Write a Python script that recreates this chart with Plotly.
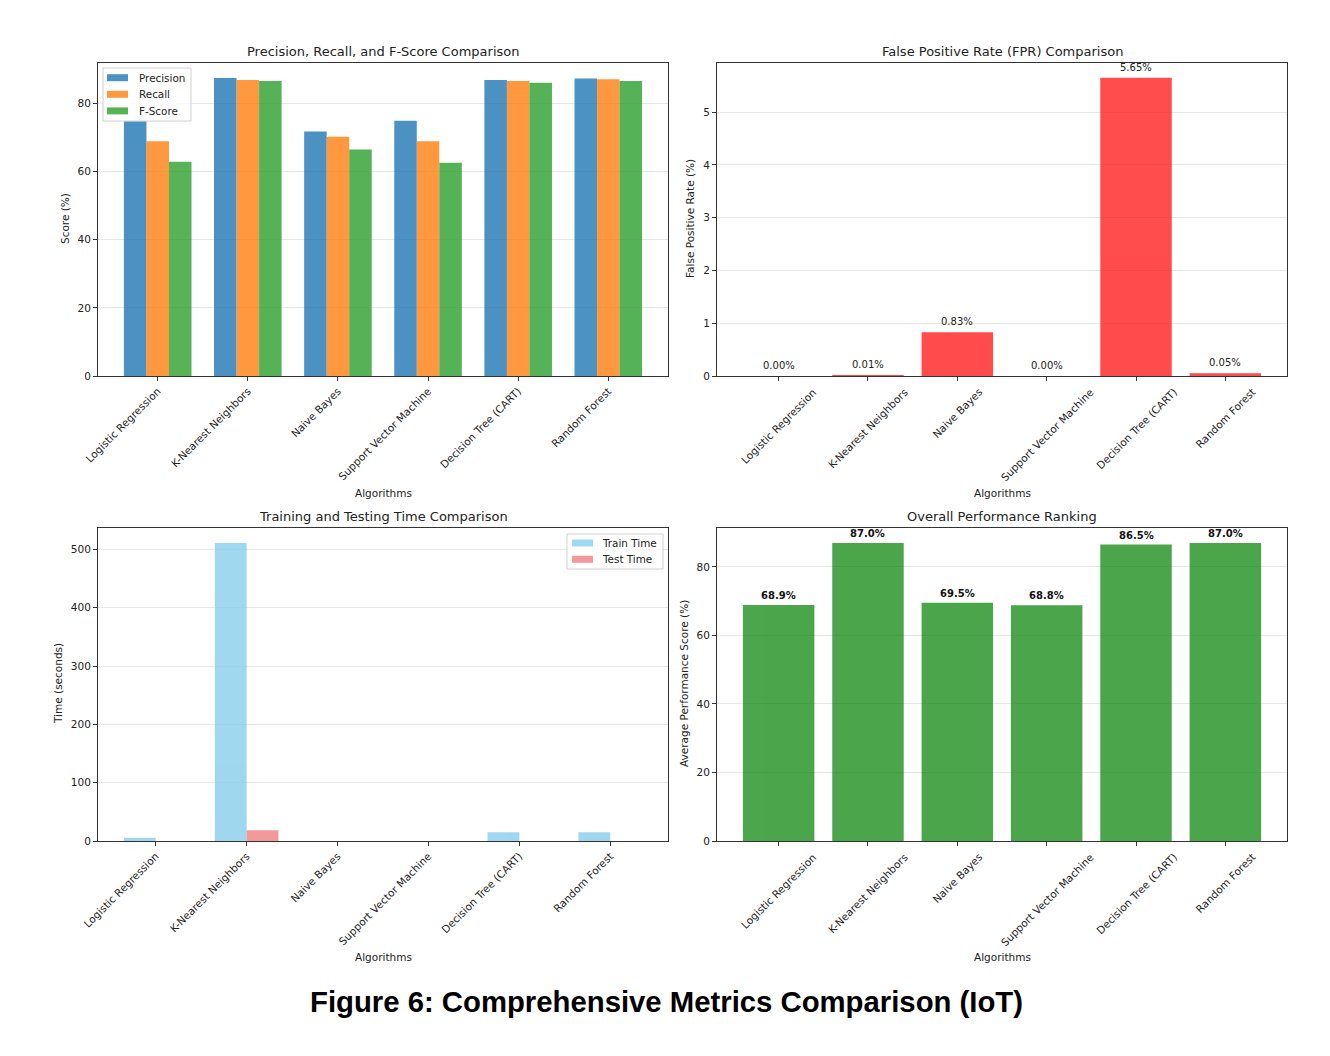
import plotly.graph_objects as go

# algorithms and metrics (IoT dataset)
algorithms = ["Logistic Regression", "K-Nearest Neighbors", "Naive Bayes",
              "Support Vector Machine", "Decision Tree (CART)", "Random Forest"]

precision = [74.8, 87.5, 71.8, 74.9, 86.9, 87.3]
recall = [68.9, 86.9, 70.2, 68.9, 86.6, 87.1]
f_score = [62.9, 86.6, 66.5, 62.6, 86.1, 86.6]

fpr = [0.00, 0.01, 0.83, 0.00, 5.65, 0.05]

train_time = [5.5, 511.0, 0.0, 0.0, 14.9, 15.0]
test_time = [0.0, 18.5, 0.0, 0.0, 0.0, 0.0]

avg_score = [68.9, 87.0, 69.5, 68.8, 86.5, 87.0]

W, H = 1330, 1056
OFF = 8  # page body margin in the browser
FONT = "DejaVu Sans"
TXT = "#222222"
GRID = "rgba(176,176,176,0.3)"


def px_x(p):
    return (p - OFF) / W


def px_y(p):
    return 1 - (p - OFF) / H


fig = go.Figure()

metric_series = [("Precision", precision, "#1f77b4"),
                 ("Recall", recall, "#ff7f0e"),
                 ("F-Score", f_score, "#2ca02c")]
time_series = [("Train Time", train_time, "#87ceeb"),
               ("Test Time", test_time, "#f08080")]

# panel 1 - precision / recall / f-score
for k, (name, vals, col) in enumerate(metric_series):
    fig.add_trace(go.Bar(x=algorithms, y=vals, name=name, width=0.25,
                         offset=-0.375 + k * 0.25, marker_color=col, opacity=0.8,
                         marker_line_width=0, xaxis="x", yaxis="y"))

# panel 2 - false positive rate
fig.add_trace(go.Bar(x=algorithms, y=fpr, width=0.8, offset=-0.4, marker_color="red",
                     opacity=0.7, marker_line_width=0, xaxis="x2", yaxis="y2"))

# panel 3 - train / test time
for k, (name, vals, col) in enumerate(time_series):
    fig.add_trace(go.Bar(x=algorithms, y=vals, name=name, width=0.35, offset=-0.35 + k * 0.35,
                         marker_color=col, opacity=0.8, marker_line_width=0,
                         xaxis="x3", yaxis="y3"))

# panel 4 - overall ranking
fig.add_trace(go.Bar(x=algorithms, y=avg_score, width=0.8, offset=-0.4, marker_color="green",
                     opacity=0.7, marker_line_width=0, xaxis="x4", yaxis="y4"))

# axes
boxes = {
    "1": (98, 668, 63, 376),
    "2": (717, 1287, 63, 376),
    "3": (98, 668, 528, 841),
    "4": (717, 1287, 528, 841),
}
yranges = {"1": [0, 91.875], "2": [0, 5.93], "3": [0, 536.6], "4": [0, 91.35]}
dticks = {"1": 20, "2": 1, "3": 100, "4": 20}
xranges = {"1": [-0.6625, 5.6625], "2": [-0.69, 5.69], "3": [-0.635, 5.635], "4": [-0.69, 5.69]}
# left column labels are right-aligned to the tick, right column labels centred
centred_labels = {"2", "4"}

axis_common = dict(showline=True, linecolor="#333333", linewidth=1, mirror=True,
                   ticks="outside", ticklen=4, tickcolor="#333333", automargin=False,
                   tickfont=dict(family=FONT, size=10.5, color=TXT), zeroline=False)

annotations = []
shapes = []

for key, (l, r, t, b) in boxes.items():
    xa = "xaxis" if key == "1" else "xaxis" + key
    ya = "yaxis" if key == "1" else "yaxis" + key
    anchor_y = "y" if key == "1" else "y" + key
    anchor_x = "x" if key == "1" else "x" + key
    fig.layout[xa] = dict(domain=[px_x(l), px_x(r)], anchor=anchor_y, range=xranges[key],
                          type="category", tickangle=-45, showgrid=False,
                          showticklabels=key not in centred_labels, **axis_common)
    fig.layout[ya] = dict(domain=[px_y(b), px_y(t)], anchor=anchor_x, range=yranges[key],
                          dtick=dticks[key], showgrid=True, gridcolor=GRID, gridwidth=1,
                          layer="above traces", **axis_common)
    if key in centred_labels:
        for name in algorithms:
            annotations.append(dict(text=name, x=name, y=px_y(b + 7), xref=anchor_x,
                                    yref="paper", showarrow=False, textangle=-45,
                                    xanchor="center", yanchor="top",
                                    font=dict(family=FONT, size=10.5, color=TXT)))

# subplot titles
titles = [("Precision, Recall, and F-Score Comparison", 383, 52),
          ("False Positive Rate (FPR) Comparison", 1002, 52),
          ("Training and Testing Time Comparison", 383, 516),
          ("Overall Performance Ranking", 1002, 516)]
for text, x, y in titles:
    annotations.append(dict(text=text, x=px_x(x), y=px_y(y), xref="paper", yref="paper",
                            showarrow=False, xanchor="center", yanchor="middle",
                            font=dict(family=FONT, size=13, color=TXT)))

# axis titles
for x in (383, 1002):
    for y in (493, 957):
        annotations.append(dict(text="Algorithms", x=px_x(x), y=px_y(y), xref="paper",
                                yref="paper", showarrow=False, xanchor="center",
                                yanchor="middle", font=dict(family=FONT, size=10.5, color=TXT)))
ytitles = [("Score (%)", 65, 219), ("False Positive Rate (%)", 690, 219),
           ("Time (seconds)", 58, 684), ("Average Performance Score (%)", 684, 684)]
for text, x, y in ytitles:
    annotations.append(dict(text=text, x=px_x(x), y=px_y(y), xref="paper", yref="paper",
                            showarrow=False, textangle=-90, xanchor="center", yanchor="middle",
                            font=dict(family=FONT, size=10.5, color=TXT)))

# value labels
for name, v in zip(algorithms, fpr):
    annotations.append(dict(text=f"{v:.2f}%", x=name, y=v + 0.06, xref="x2", yref="y2",
                            showarrow=False, xanchor="center", yanchor="bottom",
                            font=dict(family=FONT, size=10, color=TXT)))
for name, v in zip(algorithms, avg_score):
    annotations.append(dict(text=f"<b>{v:.1f}%</b>", x=name, y=v + 0.6, xref="x4", yref="y4",
                            showarrow=False, xanchor="center", yanchor="bottom",
                            font=dict(family=FONT, size=10, color="#111111")))


# legends drawn like matplotlib's compact boxes
def add_legend(series, box, sw_x, text_x, first_y, step):
    l, r, t, b = box
    shapes.append(dict(type="rect", xref="paper", yref="paper", layer="above",
                       x0=px_x(l), x1=px_x(r), y0=px_y(b), y1=px_y(t),
                       fillcolor="rgba(255,255,255,0.8)", line=dict(color="#d0d0d0", width=1)))
    for i, (name, _, col) in enumerate(series):
        cy = first_y + i * step
        shapes.append(dict(type="rect", xref="paper", yref="paper", layer="above",
                           x0=px_x(sw_x), x1=px_x(sw_x + 21), y0=px_y(cy + 3.5),
                           y1=px_y(cy - 3.5), fillcolor=col, opacity=0.8, line_width=0))
        annotations.append(dict(text=name, x=px_x(text_x), y=px_y(cy), xref="paper",
                                yref="paper", showarrow=False, xanchor="left",
                                yanchor="middle", font=dict(family=FONT, size=10.4, color=TXT)))


add_legend(metric_series, (103, 191, 68, 121), 107, 137, 77.7, 16.6)
add_legend(time_series, (567, 663, 534, 569), 572, 600, 543, 16.3)

# figure caption
annotations.append(dict(text="<b>Figure 6: Comprehensive Metrics Comparison (IoT)</b>",
                        x=px_x(666), y=px_y(1001), xref="paper", yref="paper", showarrow=False,
                        xanchor="center", yanchor="middle",
                        font=dict(family="Liberation Sans", size=29.3, color="#000000")))

fig.update_layout(
    template="none",
    width=W, height=H,
    margin=dict(l=0, r=0, t=0, b=0, autoexpand=False),
    paper_bgcolor="white", plot_bgcolor="white",
    barmode="overlay",
    showlegend=False,
    annotations=annotations,
    shapes=shapes,
    font=dict(family=FONT, color=TXT),
)

fig.write_html("out.html")
